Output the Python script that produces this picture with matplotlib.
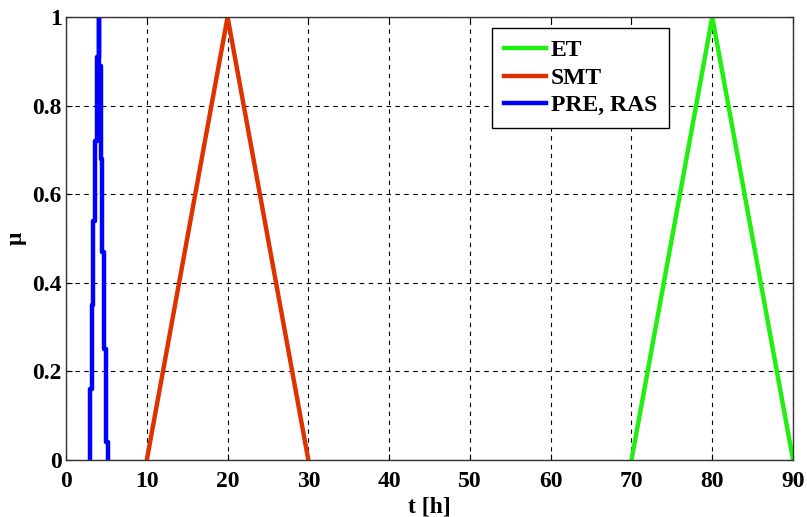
import numpy as np
import matplotlib
matplotlib.use("Agg")
import matplotlib.pyplot as plt

# --- data ---
et_t = [70, 80, 90]
et_mu = [0, 1, 0]
smt_t = [10, 20, 30]
smt_mu = [0, 1, 0]

# PRE, RAS is drawn as a staircase: each column t spans mu from edge[i] to edge[i+1]
ras_cols = [3.0, 3.25, 3.4, 3.6, 3.8, 4.05, 4.05, 4.3, 4.5, 4.7, 4.95, 5.15]
ras_edges = [0, 0.16, 0.35, 0.54, 0.72, 0.91, 1.0, 0.89, 0.68, 0.47, 0.25, 0.04, 0]

x_ticks = [0, 10, 20, 30, 40, 50, 60, 70, 80, 90]
y_ticks = [0, 0.2, 0.4, 0.6, 0.8, 1]
y_ticklabels = ["0", "0.2", "0.4", "0.6", "0.8", "1"]

plt.rcParams['font.family'] = ['Liberation Serif', 'DejaVu Serif']
plt.rcParams['font.weight'] = 'bold'

fig = plt.figure(figsize=(8.07, 5.17), dpi=100)
ax = fig.add_axes([0.0818, 0.1103, 0.9009, 0.8568])

# staircase vertices
ras_t = np.repeat(ras_cols, 2)
ras_mu = np.column_stack([ras_edges[:-1], ras_edges[1:]]).ravel()

ax.plot(et_t, et_mu, color='#22ee11', lw=3.2, label='ET')
ax.plot(smt_t, smt_mu, color='#dd3300', lw=3.2, label='SMT')
ax.plot(ras_t, ras_mu, color='#0000ff', lw=3.2, label='PRE, RAS')

ax.set_xlim(0, 90)
ax.set_ylim(0, 1)
ax.set_xticks(x_ticks)
ax.set_yticks(y_ticks)
ax.set_yticklabels(y_ticklabels)
ax.tick_params(direction='in', top=True, right=True, labelsize=17, length=4)
ax.tick_params(axis='x', pad=8)
ax.tick_params(axis='y', pad=3)
ax.grid(True, color='black', linestyle=(0, (4, 4)), lw=0.8)
for s in ax.spines.values():
    s.set_linewidth(1.0)
    s.set_color('#333333')

ax.set_xlabel('t [h]', fontsize=17, fontweight='bold', labelpad=3)
ax.set_ylabel('\u03bc', fontsize=17, fontweight='bold', labelpad=4)

leg = ax.legend(loc='upper left', bbox_to_anchor=(0.586, 0.975), fontsize=17,
                frameon=True, fancybox=False, edgecolor='black', framealpha=1,
                handlelength=1.8, handletextpad=0.2, borderpad=0.5, labelspacing=0.25,
                borderaxespad=0)
leg.get_frame().set_linewidth(1.0)

fig.savefig('out.png', dpi=100)
